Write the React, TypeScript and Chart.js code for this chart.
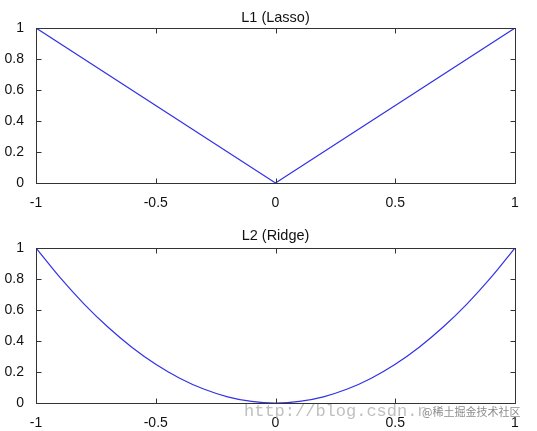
import React, { useEffect, useRef } from "react";
import { Chart, registerables } from "chart.js";
Chart.register(...registerables);

const l1X = [-1, 0, 1];
const l1Y = [1, 0, 1];
const l2X = [-1, -0.9, -0.8, -0.7, -0.6, -0.5, -0.4, -0.3, -0.2, -0.1, 0, 0.1, 0.2, 0.3, 0.4, 0.5, 0.6, 0.7, 0.8, 0.9, 1];
const l2Y = [1, 0.81, 0.64, 0.49, 0.36, 0.25, 0.16, 0.09, 0.04, 0.01, 0, 0.01, 0.04, 0.09, 0.16, 0.25, 0.36, 0.49, 0.64, 0.81, 1];
const xTicks = [-1, -0.5, 0, 0.5, 1];
const yTicks = [0, 0.2, 0.4, 0.6, 0.8, 1];
const titles = ["L1 (Lasso)", "L2 (Ridge)"];

const FONT = "'Liberation Sans', Arial, sans-serif";
const LINE = "rgb(50,50,230)";
const AXIS = "#333";

function makeBoxPlugin(title: string, titleY: number) {
  return {
    id: "box" + title.replace(/\W/g, ""),
    afterDraw(chart: any) {
      const { ctx, chartArea } = chart;
      const xs = chart.scales.x;
      const ys = chart.scales.y;
      ctx.save();
      ctx.strokeStyle = AXIS;
      ctx.lineWidth = 1;
      const l = Math.round(chartArea.left) + 0.5;
      const r = Math.round(chartArea.right) + 0.5;
      const t = Math.round(chartArea.top) + 0.5;
      const b = Math.round(chartArea.bottom) + 0.5;
      ctx.strokeRect(l, t, r - l, b - t);
      const tl = 5;
      ctx.beginPath();
      xTicks.forEach((v) => {
        const px = Math.round(xs.getPixelForValue(v)) + 0.5;
        ctx.moveTo(px, b); ctx.lineTo(px, b - tl);
        ctx.moveTo(px, t); ctx.lineTo(px, t + tl);
      });
      yTicks.forEach((v) => {
        const py = Math.round(ys.getPixelForValue(v)) + 0.5;
        ctx.moveTo(l, py); ctx.lineTo(l + tl, py);
        ctx.moveTo(r, py); ctx.lineTo(r - tl, py);
      });
      ctx.stroke();
      ctx.fillStyle = "#111";
      ctx.font = "14.5px " + FONT;
      ctx.textAlign = "center";
      ctx.textBaseline = "alphabetic";
      ctx.fillText(title, (chartArea.left + chartArea.right) / 2, titleY);
      ctx.restore();
    },
  };
}

function Panel(props: { xs: number[]; ys: number[]; title: string; top: number; height: number; padTop: number; xAxisH: number; titleY: number; smooth: boolean }) {
  const ref = useRef<HTMLCanvasElement>(null);
  useEffect(() => {
    const data = props.xs.map((x, i) => ({ x, y: props.ys[i] }));
    const chart = new Chart(ref.current!, {
      type: "line",
      data: {
        datasets: [
          {
            data,
            borderColor: LINE,
            borderWidth: 1.2,
            pointRadius: 0,
            fill: false,
            cubicInterpolationMode: props.smooth ? "monotone" : "default",
          } as any,
        ],
      },
      options: {
        responsive: false,
        animation: false,
        layout: { padding: { left: 0, right: 22, top: props.padTop, bottom: 0 } },
        plugins: { legend: { display: false }, tooltip: { enabled: false }, title: { display: false } },
        scales: {
          x: {
            type: "linear",
            min: -1,
            max: 1,
            grid: { display: false },
            border: { display: false },
            afterBuildTicks: (s: any) => { s.ticks = xTicks.map((v) => ({ value: v })); },
            afterFit: (s: any) => { s.height = props.xAxisH; },
            ticks: { autoSkip: false, maxRotation: 0, padding: 4, color: "#111", font: { family: FONT, size: 14 }, callback: (v: any) => String(v) },
          },
          y: {
            min: 0,
            max: 1,
            grid: { display: false },
            border: { display: false },
            afterBuildTicks: (s: any) => { s.ticks = yTicks.map((v) => ({ value: v })); },
            afterFit: (s: any) => { s.width = 36; },
            ticks: { autoSkip: false, padding: 4, color: "#111", font: { family: FONT, size: 14 }, callback: (v: any) => String(v) },
          },
        },
      },
      plugins: [makeBoxPlugin(props.title, props.titleY)],
    });
    return () => chart.destroy();
  }, []);
  return (
    <canvas
      ref={ref}
      width={537}
      height={props.height}
      style={{ position: "absolute", left: 0, top: props.top, width: 537, height: props.height }}
    />
  );
}

export default function App() {
  return (
    <div style={{ position: "fixed", left: 0, top: 0, width: 537, height: 431, background: "#fff", overflow: "hidden" }}>
      <Panel xs={l1X} ys={l1Y} title={titles[0]} top={0} height={215} padTop={28} xAxisH={32} titleY={21.5} smooth={false} />
      <Panel xs={l2X} ys={l2Y} title={titles[1]} top={215} height={216} padTop={33} xAxisH={28} titleY={24.5} smooth={true} />
      <div
        style={{
          position: "absolute",
          left: 244,
          top: 401,
          fontFamily: "'Liberation Mono', monospace",
          fontSize: 17,
          color: "rgba(170,170,170,0.75)",
          whiteSpace: "nowrap",
          lineHeight: "22px",
        }}
      >
        http://blog.csdn.n
      </div>
      <div
        style={{
          position: "absolute",
          left: 422,
          top: 403,
          fontFamily: "'Noto Sans CJK SC', sans-serif",
          fontSize: 11,
          color: "rgba(120,120,120,0.85)",
          whiteSpace: "nowrap",
          lineHeight: "16px",
          textShadow: "0 0 2px #fff",
        }}
      >
        @稀土掘金技术社区
      </div>
    </div>
  );
}
